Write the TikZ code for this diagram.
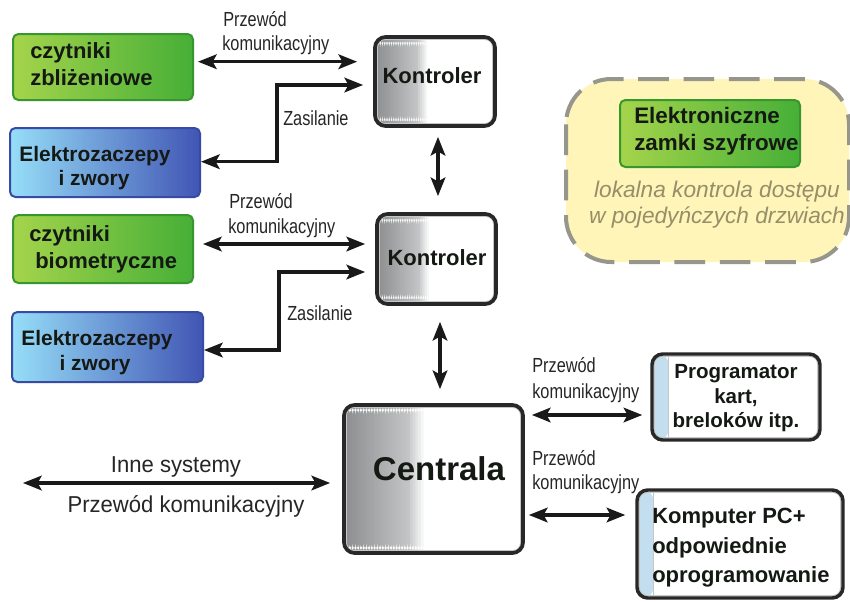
\documentclass[tikz,border=0pt]{standalone}
\usepackage{fontspec}
\setmainfont{Liberation Sans}
\newfontfamily\narrowfont{Liberation Sans}[FakeStretch=0.8]
\newfontfamily\lblfont{Liberation Sans}[FakeStretch=0.96]
\usetikzlibrary{arrows.meta,fit,calc}
\definecolor{gleft}{RGB}{165,212,75}
\definecolor{gright}{RGB}{70,175,55}
\definecolor{gborder}{RGB}{55,150,45}
\definecolor{bleft}{RGB}{150,222,248}
\definecolor{bright}{RGB}{65,85,180}
\definecolor{bborder}{RGB}{55,75,165}
\definecolor{boxtext}{RGB}{20,25,20}
\definecolor{ytext}{RGB}{150,142,105}
\definecolor{yfill}{RGB}{255,245,185}
\definecolor{ydash}{RGB}{150,150,140}
\definecolor{stripblue}{RGB}{195,222,238}
\definecolor{kgray}{RGB}{140,142,144}
\definecolor{kborder}{RGB}{40,40,40}
\begin{document}
\begin{tikzpicture}[x=0.75pt,y=-0.75pt,
  gbox/.style={inner sep=0pt, rounded corners=4pt, draw=gborder, line width=1.5pt, left color=gleft, right color=gright},
  bbox/.style={inner sep=0pt, rounded corners=4pt, draw=bborder, line width=1.5pt, left color=bleft, right color=bright},
  kbox/.style={inner sep=0pt, rounded corners=8pt, fill=white, draw=kborder, line width=2.8pt,
    path picture={
      \foreach \i in {0,...,29}{
        \pgfmathsetmacro\pp{\i<24 ? 50*\i/24 : 50+50*(\i-23)/6}
        \fill[white!\pp!kgray] ($(path picture bounding box.south west)!{#1*\i/30}!(path picture bounding box.south east)$) rectangle ($(path picture bounding box.north west)!{#1*(\i+1.3)/30}!(path picture bounding box.north east)$);
      }
      \draw[white!55!gray, line width=1.2pt, rounded corners=6pt] ([shift={(1.6pt,-1.6pt)}]path picture bounding box.north west) rectangle ([shift={(-1.6pt,1.6pt)}]path picture bounding box.south east);
    }},
  kbox/.default=0.45,
  pbox/.style={inner sep=0pt, rounded corners=8pt, fill=white, draw=kborder, line width=2.6pt,
    path picture={\fill[stripblue] (path picture bounding box.south west) rectangle ($(path picture bounding box.north west)!#1!(path picture bounding box.north east)$);
      \draw[gray!45, line width=0.5pt] ($(path picture bounding box.north west)!#1!(path picture bounding box.north east)$) -- ($(path picture bounding box.south west)!#1!(path picture bounding box.south east)$);
      \draw[white!55!gray, line width=1.2pt, rounded corners=6pt] ([shift={(1.6pt,-1.6pt)}]path picture bounding box.north west) rectangle ([shift={(-1.6pt,1.6pt)}]path picture bounding box.south east);}},
  pbox/.default=0.1,
  btxt/.style={text=boxtext, inner sep=0pt, font=\bfseries\fontsize{16.5}{20}\selectfont},
  lbl/.style={text=black!85, inner sep=0pt, anchor=base west, font=\narrowfont\fontsize{15.3}{18}\selectfont},
  arr/.style={line width=2.3pt, draw=black!90, {Stealth[length=14pt,width=11pt,inset=3pt]}-{Stealth[length=14pt,width=11pt,inset=3pt]}}
]
\useasboundingbox (0,0) rectangle (850,601);
\clip (0,0) rectangle (850,601);
\fill[white] (0,0) rectangle (850,601);

% yellow area
\draw[fill=yfill, draw=ydash, line width=3pt, dash pattern=on 23pt off 11pt, rounded corners=34pt] (566,79) rectangle (849,262);
\node[gbox, fit={(620,100) (800,167)}] (ez) {};
\node[btxt, anchor=base west, font=\bfseries\fontsize{16.8}{20}\selectfont] (ezt1) at (634,123) {Elektroniczne};
\node[btxt, anchor=base west, font=\bfseries\fontsize{16.8}{20}\selectfont] (ezt2) at (634,150) {zamki szyfrowe};
\node[text=ytext, inner sep=0pt, anchor=base, font=\itshape\fontsize{17}{20}\selectfont] (yt1) at (717,197) {lokalna kontrola dostępu};
\node[text=ytext, inner sep=0pt, anchor=base, font=\itshape\fontsize{17}{20}\selectfont] (yt2) at (717,223) {w pojedyńczych drzwiach};

% left boxes
\node[gbox, fit={(13,34) (193,100)}] (g1) {};
\node[btxt, anchor=base west] (g1a) at (30,58.5) {czytniki};
\node[btxt, anchor=base west] (g1b) at (30,85) {zbliżeniowe};
\node[bbox, fit={(10,128) (200,197)}] (b1) {};
\node[btxt, anchor=base, font=\bfseries\fontsize{15.7}{19}\selectfont] (b1a) at (95,161.7) {Elektrozaczepy};
\node[btxt, anchor=base, font=\bfseries\fontsize{15.7}{19}\selectfont] (b1b) at (94,185) {i zwory};
\node[gbox, fit={(13,215) (193,283)}] (g2) {};
\node[btxt, anchor=base west] (g2a) at (29,241.7) {czytniki};
\node[btxt, anchor=base west] (g2b) at (35,268) {biometryczne};
\node[bbox, fit={(12,312) (203,382)}] (b2) {};
\node[btxt, anchor=base, font=\bfseries\fontsize{15.7}{19}\selectfont] (b2a) at (97,345) {Elektrozaczepy};
\node[btxt, anchor=base, font=\bfseries\fontsize{15.7}{19}\selectfont] (b2b) at (95,370) {i zwory};

% controllers
\node[kbox, fit={(375,37) (495,126)}] (k1) {};
\node[btxt, anchor=base] (k1t) at (432,83.3) {Kontroler};
\node[kbox, fit={(377,214) (496,304)}] (k2) {};
\node[btxt, anchor=base] (k2t) at (437,265) {Kontroler};
\node[kbox=0.46, fit={(344,405) (523,553)}] (c) {};
\node[btxt, anchor=base, font=\bfseries\fontsize{24.75}{28}\selectfont] (ct) at (439,480.7) {Centrala};

% right boxes
\node[pbox, fit={(652,354) (820,440)}] (p) {};
\node[btxt, anchor=base, font=\bfseries\fontsize{15.4}{19}\selectfont] (pt1) at (736,378) {Programator};
\node[btxt, anchor=base, font=\bfseries\fontsize{15.4}{19}\selectfont] (pt2) at (736,403) {kart,};
\node[btxt, anchor=base, font=\bfseries\fontsize{15.4}{19}\selectfont] (pt3) at (736,427) {breloków itp.};
\node[pbox=0.08, fit={(637,490) (843,598)}] (pc) {};
\node[btxt, anchor=base west] (pct1) at (652,523) {Komputer PC+};
\node[btxt, anchor=base west] (pct2) at (652,553) {odpowiednie};
\node[btxt, anchor=base west] (pct3) at (652,582) {oprogramowanie};

% helper coordinates
\coordinate (y1) at (0,61.7);
\coordinate (y2) at (0,85);
\coordinate (y3) at (0,161.7);
\coordinate (y4) at (0,244);
\coordinate (y5) at (0,272);
\coordinate (y6) at (0,350);
\coordinate (y7) at (0,415);
\coordinate (y8) at (0,515);
\coordinate (y9) at (0,483);
\coordinate (x1) at (438,0);
\coordinate (x2) at (440,0);
\coordinate (inL) at (23,483);

% connectors
\draw[arr, shorten <=3pt, shorten >=12pt] (g1.east |- y1) -- (k1.west |- y1);
\draw[arr, shorten <=7.5pt] (k1.west |- y2) -- (277,85) -- (277,161.7) -- (b1.east |- y3);
\draw[arr, shorten <=6.75pt, shorten >=12pt] (k1.south -| x1) -- (k2.north -| x1);
\draw[arr, shorten <=6.75pt, shorten >=7.5pt] (g2.east |- y4) -- (k2.west |- y4);
\draw[arr, shorten <=7.5pt] (k2.west |- y5) -- (279,272) -- (279,350) -- (b2.east |- y6);
\draw[arr, shorten <=12pt, shorten >=10.5pt] (k2.south -| x2) -- (c.north -| x2);
\draw[arr, shorten <=5.25pt, shorten >=6pt] (c.east |- y7) -- (p.west |- y7);
\draw[arr, shorten <=3pt, shorten >=7.5pt] (c.east |- y8) -- (pc.west |- y8);
\draw[arr, shorten >=9pt] (inL) -- (c.west |- y9);

% labels
\node[lbl] (l1a) at (223,26) {Przewód};
\node[lbl] (l1b) at (222,50) {komunikacyjny};
\node[lbl] (l2) at (283,125) {Zasilanie};
\node[lbl] (l3a) at (229,208) {Przewód};
\node[lbl] (l3b) at (228,233) {komunikacyjny};
\node[lbl] (l4) at (287,320) {Zasilanie};
\node[lbl] (l5a) at (532,372) {Przewód};
\node[lbl] (l5b) at (532,398) {komunikacyjny};
\node[lbl] (l6a) at (532,465) {Przewód};
\node[lbl] (l6b) at (532,489) {komunikacyjny};
\node[text=black!85, inner sep=0pt, anchor=base, font=\lblfont\fontsize{17.25}{20}\selectfont] (l7a) at (176,472) {Inne systemy};
\node[text=black!85, inner sep=0pt, anchor=base, font=\lblfont\fontsize{17.25}{20}\selectfont] (l7b) at (186,512) {Przewód komunikacyjny};
\end{tikzpicture}
\end{document}
